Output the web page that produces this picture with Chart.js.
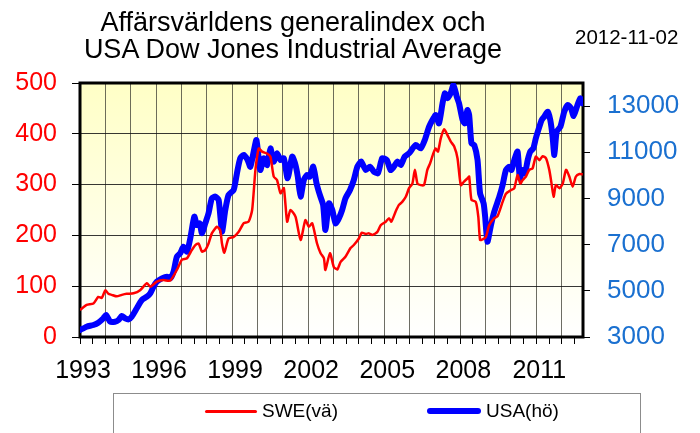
<!DOCTYPE html>
<html>
<head>
<meta charset="utf-8">
<script src="https://cdn.jsdelivr.net/npm/chart.js@4.4.0/dist/chart.umd.min.js"></script>
<style>
body { margin: 0; background: #fff; }
#wrap { position: relative; width: 700px; height: 433px; overflow: hidden; font-family: "Liberation Sans", Arial, sans-serif; }
#chart { position: absolute; left: 0; top: 0; }
#title { position: absolute; left: 43px; top: 9px; width: 500px; text-align: center; font-size: 27px; line-height: 26.7px; color: #000; white-space: nowrap; }
#date { position: absolute; left: 575px; top: 25px; font-size: 20.5px; color: #000; }
#legend { position: absolute; left: 113px; top: 393px; width: 528px; height: 60px; border: 1px solid #8c8c8c; box-sizing: border-box; }
.sample { position: absolute; border-radius: 3px; }
.ltext { position: absolute; font-size: 19px; line-height: 22px; white-space: nowrap; }
</style>
</head>
<body>
<div id="wrap">
  <canvas id="chart" width="700" height="433"></canvas>
  <div id="title">Affärsvärldens generalindex och<br>USA Dow Jones Industrial Average</div>
  <div id="date">2012-11-02</div>
  <div id="legend"></div>
</div>
<script>
// Affärsvärldens generalindex (left axis)
var sweYears = [
  1993.00, 1993.26, 1993.53, 1993.72, 1993.86,
  1994.00, 1994.12, 1994.25, 1994.45, 1994.65, 1994.84,
  1995.11, 1995.37, 1995.64, 1995.77,
  1996.03, 1996.29, 1996.56, 1996.82,
  1997.02, 1997.22, 1997.41, 1997.55, 1997.68, 1997.81, 1997.94,
  1998.07, 1998.20, 1998.40, 1998.53, 1998.60, 1998.69, 1998.86,
  1999.06, 1999.26, 1999.46, 1999.65, 1999.79, 1999.92,
  2000.05, 2000.18, 2000.38, 2000.51, 2000.64, 2000.77, 2000.91,
  2001.04, 2001.17, 2001.30, 2001.50, 2001.70, 2001.89,
  2002.03, 2002.16, 2002.35, 2002.49, 2002.62, 2002.68, 2002.86,
  2003.01, 2003.15, 2003.28, 2003.47, 2003.67, 2003.80,
  2004.00, 2004.11, 2004.27, 2004.40, 2004.53, 2004.73, 2004.86,
  2005.06, 2005.19, 2005.28, 2005.45, 2005.58, 2005.71, 2005.85, 2005.98,
  2006.11, 2006.21, 2006.31, 2006.44, 2006.57, 2006.70, 2006.81, 2006.94,
  2007.03, 2007.12, 2007.23, 2007.36, 2007.49, 2007.62, 2007.76, 2007.89,
  2008.02, 2008.15, 2008.28, 2008.35, 2008.44, 2008.61, 2008.71, 2008.78, 2008.88,
  2009.01, 2009.14, 2009.34, 2009.47, 2009.67, 2009.80, 2009.99,
  2010.13, 2010.26, 2010.37, 2010.46, 2010.59, 2010.72, 2010.85, 2010.98,
  2011.12, 2011.25, 2011.38, 2011.51, 2011.60, 2011.68, 2011.77, 2011.91,
  2012.04, 2012.17, 2012.30, 2012.43, 2012.56, 2012.70, 2012.83
];
var sweValues = [
  53, 63, 66, 79, 77,
  92, 85, 83, 80, 83, 85,
  86, 92, 106, 99,
  109, 112, 111, 132,
  152, 155, 171, 181, 184, 168, 171,
  184, 204, 217, 210, 184, 166, 194,
  197, 207, 224, 227, 250, 329,
  371, 365, 361, 355, 316, 309, 283,
  293, 227, 250, 237, 191, 230,
  217, 224, 184, 165, 155, 132, 165,
  138, 133, 148, 158, 175, 181,
  194, 205, 203, 204, 201, 207, 220,
  227, 234, 227, 247, 260, 266, 276, 293,
  302, 329, 302, 299, 299, 329, 342, 362,
  371, 365, 391, 409, 398, 385, 375, 352,
  299, 306, 312, 316, 270, 266, 237, 191, 192,
  197, 220, 234, 238, 266, 282, 289,
  293, 319, 302, 309, 316, 329, 332, 355,
  348, 356, 352, 329, 302, 276, 299, 293,
  302, 329, 316, 296, 316, 321, 320
];

// Dow Jones Industrial Average (right axis)
var usaYears = [
  1993.00, 1993.26, 1993.53, 1993.72, 1993.92,
  1994.03, 1994.19, 1994.38, 1994.52, 1994.65, 1994.78, 1994.91,
  1995.04, 1995.24, 1995.44, 1995.64, 1995.77, 1995.90,
  1996.03, 1996.23, 1996.43, 1996.56, 1996.69, 1996.82, 1996.95,
  1997.08, 1997.22, 1997.35, 1997.51, 1997.61, 1997.72, 1997.81, 1997.94,
  1998.07, 1998.20, 1998.34, 1998.47, 1998.60, 1998.73, 1998.86,
  1999.06, 1999.19, 1999.32, 1999.46, 1999.61, 1999.72, 1999.85, 1999.96,
  2000.11, 2000.25, 2000.38, 2000.51, 2000.64, 2000.77, 2000.91,
  2001.04, 2001.19, 2001.37, 2001.50, 2001.59, 2001.70, 2001.83, 2001.96,
  2002.06, 2002.20, 2002.33, 2002.46, 2002.59, 2002.68, 2002.82, 2002.95,
  2003.08, 2003.21, 2003.34, 2003.47, 2003.65, 2003.80, 2003.94,
  2004.09, 2004.27, 2004.44, 2004.59, 2004.75, 2004.92,
  2005.10, 2005.25, 2005.38, 2005.52, 2005.65, 2005.81, 2005.98,
  2006.24, 2006.44, 2006.60, 2006.77, 2006.94,
  2007.03, 2007.16, 2007.30, 2007.39, 2007.49, 2007.62, 2007.73, 2007.86, 2007.95,
  2008.09, 2008.18, 2008.28, 2008.35, 2008.44, 2008.55, 2008.68, 2008.78, 2008.92, 2008.98,
  2009.07, 2009.21, 2009.34, 2009.54, 2009.67, 2009.80, 2009.93,
  2010.02, 2010.13, 2010.26, 2010.35, 2010.46, 2010.55, 2010.66, 2010.76, 2010.88, 2010.98,
  2011.12, 2011.21, 2011.31, 2011.45, 2011.55, 2011.64, 2011.71, 2011.80, 2011.95,
  2012.10, 2012.24, 2012.37, 2012.47, 2012.60, 2012.73, 2012.83
];
var usaValues = [
  3303, 3446, 3520, 3620, 3810,
  3953, 3663, 3663, 3735, 3909, 3810, 3760,
  3880, 4243, 4602, 4746, 4891, 5180,
  5395, 5540, 5612, 5540, 5828, 6478, 6622,
  6911, 6695, 7274, 8210, 7850, 7920, 7490, 7920,
  8357, 9007, 9080, 8935, 7560, 8500, 9150,
  9366, 10090, 10740, 10885, 10667, 10375, 11030, 11532,
  10233, 10740, 10450, 11172, 10597, 10955, 10667,
  10740, 9872, 10812, 10450, 9945, 9077, 9800, 10017,
  9945, 10375, 9656, 9150, 8717, 7634, 8790, 8500,
  7924, 8140, 8500, 9007, 9366, 9800, 10375,
  10597, 10233, 10375, 10160, 10090, 10740,
  10667, 10233, 10375, 10597, 10450, 10812, 10955,
  11315, 11172, 11532, 12108, 12470,
  12613, 12253, 13122, 13555, 13340, 13555, 13914, 13412, 13122,
  12398, 12253, 12830, 12613, 11388, 11315, 10667, 9223, 8790, 8210,
  7127, 7850, 8430, 9077, 9583, 10233, 10375,
  10233, 10667, 11030, 9872, 10233, 10090, 10667, 11030, 11172, 11605,
  12108, 12398, 12541, 12757, 12398, 11677, 10883, 11894, 12108,
  12757, 13048, 12902, 12571, 12974, 13338, 13122
];

var seriesNames = ["SWE(vä)", "USA(hö)"];
var yearLabels = ["1993", "1996", "1999", "2002", "2005", "2008", "2011"];
var leftTicks = [0, 100, 200, 300, 400, 500];
var rightTicks = [3000, 4000, 5000, 6000, 7000, 8000, 9000, 10000, 11000, 12000, 13000, 14000];
var rightLabels = ["3000", "5000", "7000", "9000", "11000", "13000"];

var FONT = "'Liberation Sans', Arial, sans-serif";
var xStart = 1993, xEnd = 2012.84;

function toPoints(xs, ys) {
  return xs.map(function (x, i) { return { x: x, y: ys[i] }; });
}

var halfYears = [];
for (var t = xStart; t <= xEnd; t += 0.5) halfYears.push(t);

// plot background and frame
var plotFrame = {
  id: "plotFrame",
  beforeDraw: function (chart) {
    var a = chart.chartArea, ctx = chart.ctx;
    var g = ctx.createLinearGradient(0, a.top, 0, a.bottom);
    g.addColorStop(0, "#ffffc6");
    g.addColorStop(1, "#ffffff");
    ctx.save();
    ctx.fillStyle = g;
    ctx.fillRect(a.left, a.top, a.right - a.left, a.bottom - a.top);
    ctx.restore();
  },
  beforeDatasetsDraw: function (chart) {
    var a = chart.chartArea, ctx = chart.ctx;
    ctx.save();
    ctx.strokeStyle = "#000";
    ctx.lineWidth = 3;
    ctx.strokeRect(a.left, a.top, a.right - a.left, a.bottom - a.top);
    ctx.restore();
  }
};

var ctx = document.getElementById("chart");

var chart = new Chart(ctx, {
  type: "line",
  data: {
    datasets: [
      {
        label: seriesNames[0],
        data: toPoints(sweYears, sweValues),
        yAxisID: "y",
        borderColor: "#ff0000",
        borderWidth: 2.5,
        pointRadius: 0,
        tension: 0.2,
        fill: false
      },
      {
        label: seriesNames[1],
        data: toPoints(usaYears, usaValues),
        yAxisID: "y2",
        borderColor: "#0000ff",
        borderWidth: 6,
        borderJoinStyle: "round",
        borderCapStyle: "round",
        pointRadius: 0,
        tension: 0.2,
        fill: false
      }
    ]
  },
  options: {
    responsive: false,
    animation: false,
    events: [],
    layout: { padding: { top: 83, left: 0, right: 0, bottom: 0 } },
    plugins: {
      legend: { display: false },
      title: { display: false },
      tooltip: { enabled: false }
    },
    scales: {
      x: {
        type: "linear",
        position: "bottom",
        min: xStart,
        max: xEnd,
        afterBuildTicks: function (scale) {
          scale.ticks = halfYears.map(function (v) { return { value: v }; });
        },
        afterFit: function (scale) { scale.height = 96; },
        border: { display: false },
        grid: {
          color: function (c) {
            return c.tick && Number.isInteger(c.tick.value) ? "rgba(60,60,50,0.75)" : "rgba(0,0,0,0)";
          },
          tickColor: "#000",
          lineWidth: 1,
          tickLength: 7
        },
        ticks: {
          autoSkip: false,
          maxRotation: 0,
          labelOffset: 3,
          padding: 12,
          color: "#000",
          font: { family: FONT, size: 25 },
          callback: function (v) {
            return yearLabels.indexOf(String(v)) >= 0 ? String(v) : "";
          }
        }
      },
      y: {
        type: "linear",
        position: "left",
        min: 0,
        max: 500,
        afterBuildTicks: function (scale) {
          scale.ticks = leftTicks.map(function (v) { return { value: v }; });
        },
        afterFit: function (scale) { scale.width = 80; },
        border: { display: false },
        grid: { color: "rgba(20,20,20,0.85)", lineWidth: 1, tickColor: "#000", tickLength: 8 },
        ticks: {
          color: "#ff0000",
          padding: 15,
          font: { family: FONT, size: 25 },
          callback: function (v) { return String(v); }
        }
      },
      y2: {
        type: "linear",
        position: "right",
        min: 3000,
        max: 14000,
        afterBuildTicks: function (scale) {
          scale.ticks = rightTicks.map(function (v) { return { value: v }; });
        },
        afterFit: function (scale) { scale.width = 117; },
        border: { display: false },
        grid: { drawOnChartArea: false, tickColor: "#000", tickLength: 7 },
        ticks: {
          color: "#1a70d0",
          padding: 17,
          font: { family: FONT, size: 26 },
          callback: function (v) {
            return rightLabels.indexOf(String(v)) >= 0 ? String(v) : "";
          }
        }
      }
    }
  },
  plugins: [plotFrame]
});

// legend built from the chart's datasets
var legend = document.getElementById("legend");
var legendPos = [
  { sx: 91, sw: 52, th: 3, tx: 148 },
  { sx: 313, sw: 54, th: 6, tx: 372 }
];
chart.data.datasets.forEach(function (ds, i) {
  var p = legendPos[i];
  var s = document.createElement("div");
  s.className = "sample";
  s.style.left = p.sx + "px";
  s.style.top = (17 - p.th / 2) + "px";
  s.style.width = p.sw + "px";
  s.style.height = p.th + "px";
  s.style.background = ds.borderColor;
  legend.appendChild(s);
  var t = document.createElement("div");
  t.className = "ltext";
  t.style.left = p.tx + "px";
  t.style.top = "6px";
  t.textContent = ds.label;
  legend.appendChild(t);
});
</script>
</body>
</html>
